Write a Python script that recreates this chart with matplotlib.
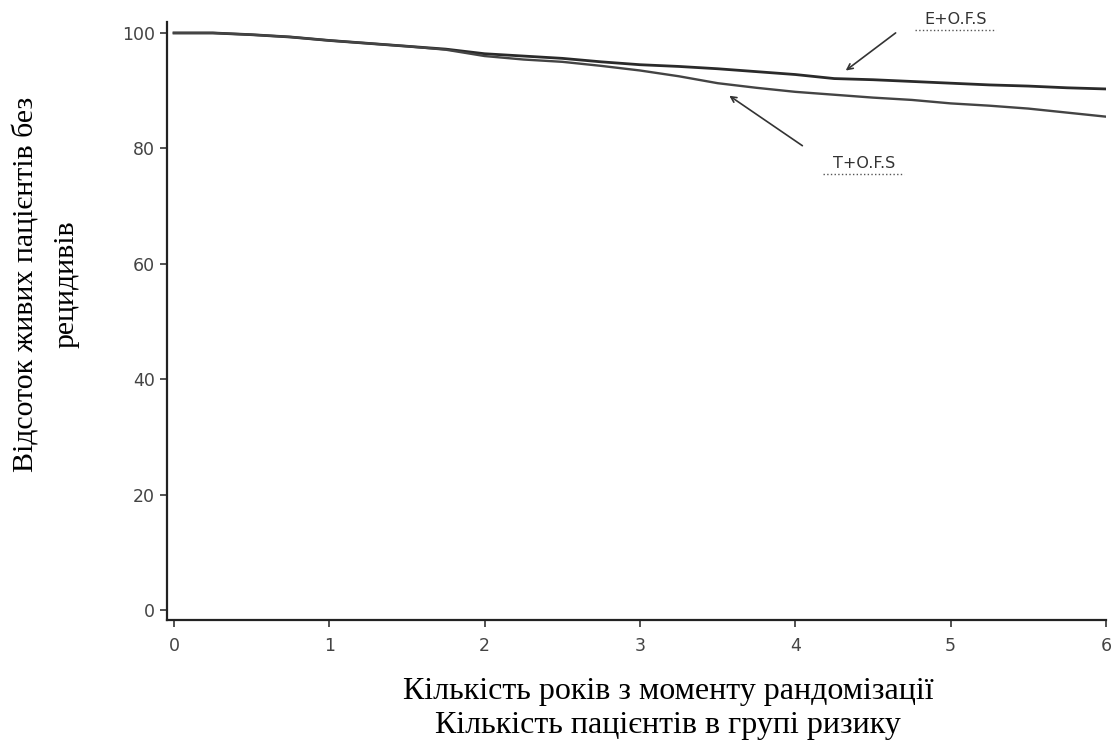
import matplotlib.pyplot as plt
import numpy as np

# Data (years since randomisation, % alive without relapse)
years = [0, 0.25, 0.5, 0.75, 1, 1.25, 1.5, 1.75, 2, 2.25, 2.5, 2.75, 3,
         3.25, 3.5, 3.75, 4, 4.25, 4.5, 4.75, 5, 5.25, 5.5, 5.75, 6]
e_ofs = [100, 100, 99.7, 99.3, 98.7, 98.2, 97.7, 97.2, 96.4, 96.0, 95.6, 95.0, 94.5,
         94.2, 93.8, 93.3, 92.8, 92.1, 91.9, 91.6, 91.3, 91.0, 90.8, 90.5, 90.3]
t_ofs = [100, 100, 99.7, 99.3, 98.7, 98.2, 97.7, 97.1, 96.0, 95.4, 95.0, 94.3, 93.5,
         92.5, 91.3, 90.5, 89.8, 89.3, 88.8, 88.4, 87.8, 87.4, 86.9, 86.2, 85.5]
x_ticks = [0, 1, 2, 3, 4, 5, 6]
y_ticks = [0, 20, 40, 60, 80, 100]

fig = plt.figure(figsize=(11.18, 7.43), dpi=100)
ax = fig.add_axes([167/1118, 1 - 620/743, (1106 - 167)/1118, (620 - 22)/743])

ax.plot(years, e_ofs, color="#2a2a2a", lw=2.0)
ax.plot(years, t_ofs, color="#444444", lw=1.7)

ax.set_xlim(-0.045, 6.0)
ax.set_ylim(-1.7, 101.9)
ax.set_xticks(x_ticks)
ax.set_yticks(y_ticks)
ax.tick_params(labelsize=12.5, colors="#444444", length=5, width=1.3, direction="out")
ax.tick_params(axis="x", pad=7)
for s in ["top", "right"]:
    ax.spines[s].set_visible(False)
for s in ["left", "bottom"]:
    ax.spines[s].set_linewidth(1.6)
    ax.spines[s].set_color("#222222")

# annotations
ax.annotate("", xy=(4.31, 93.2), xytext=(4.66, 100.3),
            arrowprops=dict(arrowstyle="->", color="#333333", lw=1.2))
ax.text(5.03, 102.4, "E+O.F.S", fontsize=11.5, color="#333333", ha="center", va="center")
ax.annotate("", xy=(3.56, 89.4), xytext=(4.06, 80.2),
            arrowprops=dict(arrowstyle="->", color="#333333", lw=1.2))
ax.text(4.44, 77.3, "T+O.F.S", fontsize=11.5, color="#333333", ha="center", va="center")
ax.plot([4.77, 5.29], [100.6, 100.6], color="#555555", lw=1.0, ls=":", clip_on=False)
ax.plot([4.18, 4.70], [75.5, 75.5], color="#555555", lw=1.0, ls=":", clip_on=False)

fig.text(668/1118, 1 - 692/743, "Кількість років з моменту рандомізації",
         family="Liberation Serif", fontsize=23, ha="center", va="center")
fig.text(668/1118, 1 - 726/743, "Кількість пацієнтів в групі ризику",
         family="Liberation Serif", fontsize=23, ha="center", va="center")
fig.text(46/1118, 1 - 284/743, "Відсоток живих пацієнтів без\nрецидивів",
         family="Liberation Serif", fontsize=21.5, ha="center", va="center",
         rotation=90, multialignment="center", linespacing=1.65)

fig.savefig("out.png", dpi=100)
